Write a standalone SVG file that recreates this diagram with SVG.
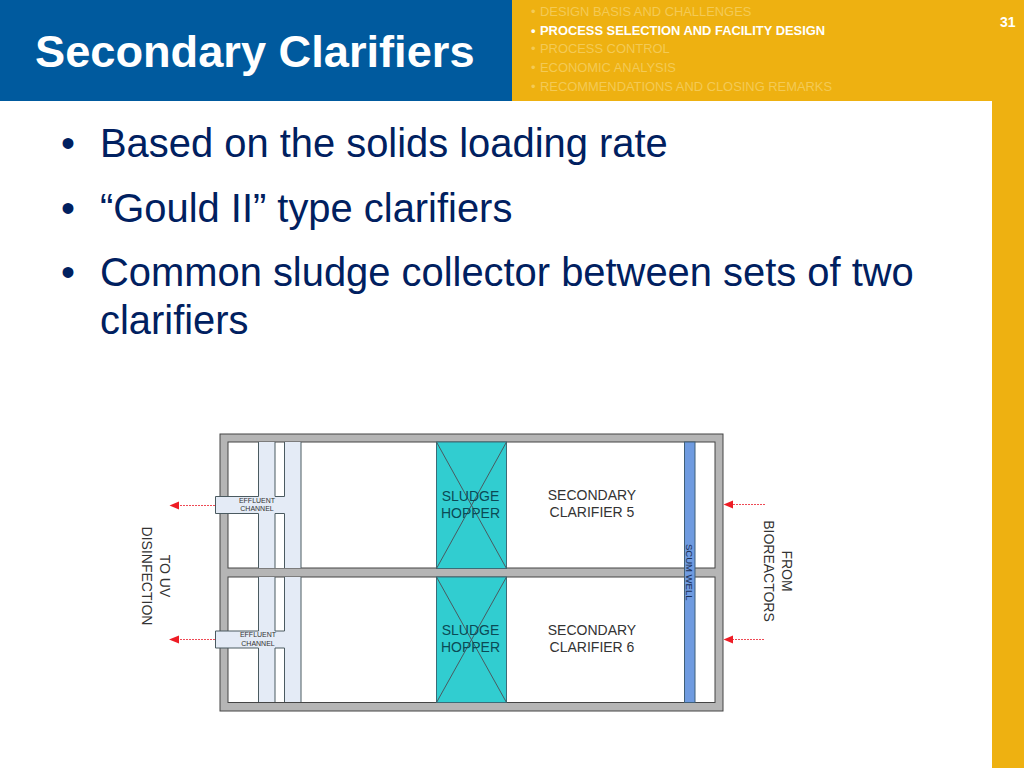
<svg xmlns="http://www.w3.org/2000/svg" width="1024" height="768" viewBox="0 0 1024 768">
<style>
text{font-family:"Liberation Sans",Arial,sans-serif}
.menu{font-size:12.900px;fill:#f4ca55}
.bul{font-size:39.900px;fill:#002060}
.lab{font-size:14px;fill:#333}
.tiny{font-size:7px;fill:#333}
.hop{font-size:14px;fill:#0b4a55}
.ln{stroke:#4a5a60;stroke-width:1;fill:none}
.chan{fill:#e4ebf6;stroke:none}
.arr{stroke:#ee4a55;stroke-width:1;stroke-dasharray:2 1;fill:none}
.arrh{fill:#ee1c25}
</style>
<rect width="1024" height="768" fill="#fff"/>
<g id="background">
<rect x="0" y="0" width="512" height="101" fill="#005a9e"/>
<rect x="512" y="0" width="512" height="101" fill="#eeb111"/>
<rect x="992" y="101" width="32" height="667" fill="#eeb111"/>
</g>
<text x="35" y="67" font-size="45.200" font-weight="bold" fill="#fff">Secondary Clarifiers</text>
<g id="menu">
<text class="menu" x="531" y="15.500">•<tspan x="540">DESIGN BASIS AND CHALLENGES</tspan></text>
<text x="531" y="34.500" font-size="12.900" font-weight="bold" fill="#fff">•<tspan x="540">PROCESS SELECTION AND FACILITY DESIGN</tspan></text>
<text class="menu" x="531" y="53">•<tspan x="540">PROCESS CONTROL</tspan></text>
<text class="menu" x="531" y="72">•<tspan x="540">ECONOMIC ANALYSIS</tspan></text>
<text class="menu" x="531" y="91">•<tspan x="540">RECOMMENDATIONS AND CLOSING REMARKS</tspan></text>
<text x="1000" y="27" font-size="14" font-weight="bold" fill="#fff">31</text>
</g>
<g id="bullets">
<text class="bul" x="61" y="157">•</text><text class="bul" x="100" y="157">Based on the solids loading rate</text>
<text class="bul" x="61" y="222">•</text><text class="bul" x="100" y="222">“Gould II” type clarifiers</text>
<text class="bul" x="61" y="286">•</text><text class="bul" x="100" y="286">Common sludge collector between sets of two</text>
<text class="bul" x="100" y="334">clarifiers</text>
</g>
<g id="tank">
<rect x="220" y="434" width="503" height="277" fill="#b5b5b5" stroke="#444" stroke-width="1"/>
<rect x="228" y="442" width="487" height="126" fill="#fff" stroke="#444" stroke-width="1"/>
<rect x="228" y="577" width="487" height="125.500" fill="#fff" stroke="#444" stroke-width="1"/>
</g>
<g id="effluent-channel-5">
<path class="chan" d="M258.500 442H275V496.500H284.500V442H301V568H258.500V513.500H215.500V496.500H258.500Z"/>
<rect x="275" y="513.500" width="9.500" height="54.500" fill="#fff"/>
<path class="ln" d="M258.500 442V496.500H215.500V513.500H258.500V568M275 442V496.500H284.500V442M275 568V513.500H284.500V568M301 442V568"/>
<text class="tiny" x="257" y="502.500" text-anchor="middle">EFFLUENT</text>
<text class="tiny" x="257" y="511" text-anchor="middle">CHANNEL</text>
</g>
<g id="effluent-channel-6">
<path class="chan" d="M258.500 577H275V631H284.500V577H301V702H258.500V648H215.500V631H258.500Z"/>
<rect x="275" y="648" width="9.500" height="54" fill="#fff"/>
<path class="ln" d="M258.500 577V631H215.500V648H258.500V702M275 577V631H284.500V577M275 702V648H284.500V702M301 577V702"/>
<text class="tiny" x="258" y="637" text-anchor="middle">EFFLUENT</text>
<text class="tiny" x="258" y="645.500" text-anchor="middle">CHANNEL</text>
</g>
<g id="sludge-hopper-5">
<rect x="436.500" y="442" width="70" height="126.500" fill="#31cdd0" stroke="#3b6c78"/>
<path class="ln" d="M436.500 442L506.500 568.500M506.500 442L436.500 568.500"/>
<text class="hop" x="470.500" y="500.500" text-anchor="middle">SLUDGE</text>
<text class="hop" x="470.500" y="517.500" text-anchor="middle">HOPPER</text>
</g>
<g id="sludge-hopper-6">
<rect x="436.500" y="577" width="70" height="125.500" fill="#31cdd0" stroke="#3b6c78"/>
<path class="ln" d="M436.500 577L506.500 702.500M506.500 577L436.500 702.500"/>
<text class="hop" x="470.500" y="635" text-anchor="middle">SLUDGE</text>
<text class="hop" x="470.500" y="652" text-anchor="middle">HOPPER</text>
</g>
<g id="clarifier-5">
<text class="lab" x="592" y="500" text-anchor="middle">SECONDARY</text>
<text class="lab" x="592" y="517" text-anchor="middle">CLARIFIER 5</text>
</g>
<g id="clarifier-6">
<text class="lab" x="592" y="635" text-anchor="middle">SECONDARY</text>
<text class="lab" x="592" y="652" text-anchor="middle">CLARIFIER 6</text>
</g>
<g id="scum-well">
<rect x="684.500" y="442" width="10.500" height="260.500" fill="#6f9be0" stroke="#3f5f78"/>
<text transform="translate(686 544) rotate(90)" font-size="9.500" fill="#1b2f55">SCUM WELL</text>
</g>
<g id="connectors">
<path class="arr" d="M215 505.500H176"/><path class="arrh" d="M169.500 505.500L179 501.500V509.500Z"/>
<path class="arr" d="M215 639.500H176"/><path class="arrh" d="M169 639.500L179 635.500V643.500Z"/>
<path class="arr" d="M765 504.500H730"/><path class="arrh" d="M723.500 504.500L733 500.500V508.500Z"/>
<path class="arr" d="M764 639.500H730"/><path class="arrh" d="M723.500 639.500L733 635.500V643.500Z"/>
</g>
<g id="labels">
<text class="lab" transform="translate(159.500 576) rotate(90)" text-anchor="middle">TO UV</text>
<text class="lab" transform="translate(142 576) rotate(90)" text-anchor="middle">DISINFECTION</text>
<text class="lab" transform="translate(782 571) rotate(90)" text-anchor="middle">FROM</text>
<text class="lab" transform="translate(764 571) rotate(90)" text-anchor="middle">BIOREACTORS</text>
</g>
</svg>
